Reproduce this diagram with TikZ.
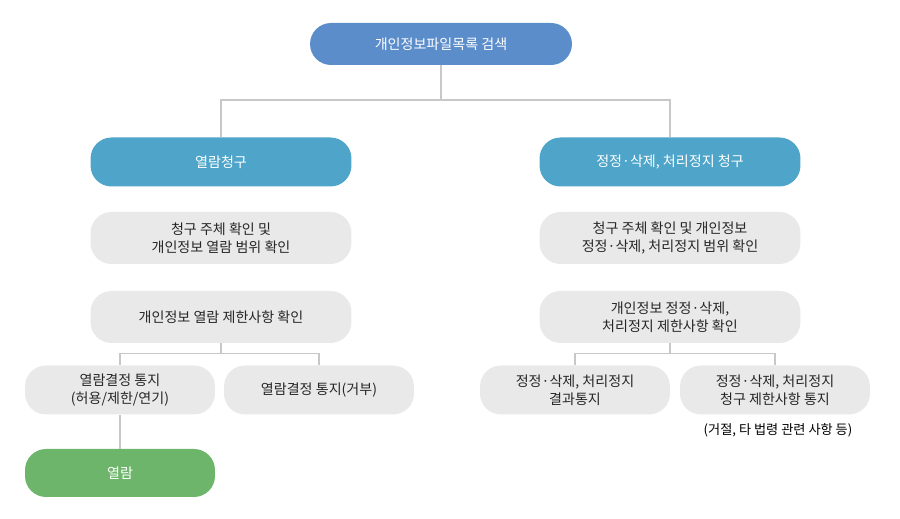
\documentclass[tikz,border=0pt]{standalone}
\usepackage{fontspec}
\newfontfamily\kr{Noto Sans CJK KR}
\usetikzlibrary{positioning}
\definecolor{topblue}{HTML}{5B8DCB}
\definecolor{headteal}{HTML}{4EA5C9}
\definecolor{boxgray}{HTML}{E9E9E9}
\definecolor{leafgreen}{HTML}{6DB56B}
\definecolor{linegray}{HTML}{C8C8C8}

\begin{document}
\begin{tikzpicture}[x=0.02cm, y=-0.02cm,
	base/.style={rounded corners=0.42cm, align=center, inner sep=0pt,
		font=\kr\fontsize{8}{10.5}\selectfont},
	topbox/.style={base, fill=topblue, text=white, minimum width=5.24cm, minimum height=0.84cm},
	headbox/.style={base, fill=headteal, text=white, minimum width=5.22cm, minimum height=0.98cm},
	graybox/.style={base, fill=boxgray, text=black!85, minimum width=5.22cm, minimum height=1.04cm},
	leafbox/.style={base, fill=boxgray, text=black!85, minimum width=3.8cm, minimum height=0.98cm},
	greenbox/.style={base, fill=leafgreen, text=white, minimum width=3.8cm, minimum height=0.96cm},
	link/.style={draw=linegray, line width=0.6pt}]
	\useasboundingbox (0,0) rectangle (900,519);

	\node[topbox] (search) at (441,44) {개인정보파일목록 검색};

		%left column
	\node[headbox] (read) at (221,162) {열람청구};
	\node[graybox] (readchk) at (221,238) {청구 주체 확인 및\\개인정보 열람 범위 확인};
	\node[graybox] (readlim) at (221,317) {개인정보 열람 제한사항 확인};
	\node[leafbox] (readok) at (120,390) {열람결정 통지\\(허용/제한/연기)};
	\node[leafbox] (readno) at (319,390) {열람결정 통지(거부)};
	\node[greenbox] (view) at (120,473) {열람};

		%right column
	\node[headbox] (fix) at (670,162) {정정·삭제, 처리정지 청구};
	\node[graybox] (fixchk) at (670,238) {청구 주체 확인 및 개인정보\\정정·삭제, 처리정지 범위 확인};
	\node[graybox] (fixlim) at (670,317) {개인정보 정정·삭제,\\처리정지 제한사항 확인};
	\node[leafbox] (fixok) at (575,390) {정정·삭제, 처리정지\\결과통지};
	\node[leafbox] (fixno) at (775,390) {정정·삭제, 처리정지\\청구 제한사항 통지};
	\node[base, font=\kr\fontsize{7.5}{9}\selectfont] (fixnote) at (778,430) {(거절, 타 법령 관련 사항 등)};

		%connectors
	\coordinate (split) at (441,100);
	\draw[link] (search) -- (split);
	\draw[link] (read) |- (split) -| (fix);
	\draw[link] (readlim.south) -- ++(0,10) coordinate (rs);
	\draw[link] (readok) |- (rs) -| (readno);
	\draw[link] (fixlim.south) -- ++(0,10) coordinate (fs);
	\draw[link] (fixok) |- (fs) -| (fixno);
	\draw[link] (readok) -- (view);
\end{tikzpicture}
\end{document}
